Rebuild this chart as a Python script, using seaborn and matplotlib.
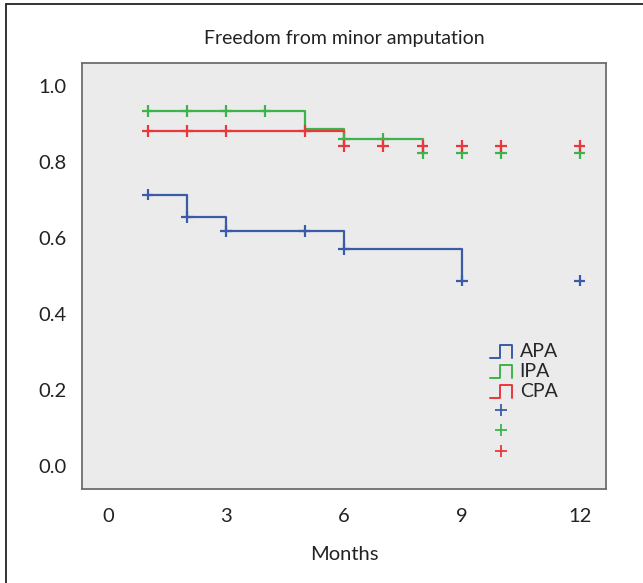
import numpy as np
import pandas as pd
import matplotlib
matplotlib.use('Agg')
import matplotlib.pyplot as plt
import seaborn as sns
from matplotlib.lines import Line2D
from matplotlib.legend_handler import HandlerBase
from matplotlib.patches import Rectangle

# --- data ---
groups = ['APA', 'IPA', 'CPA']
colors = {'APA': '#3b5ba8', 'IPA': '#3cb44b', 'CPA': '#e8383d'}

# step curves (event times / survival)
apa_t = [1, 2, 3, 6, 9]
apa_s = [0.714, 0.655, 0.618, 0.571, 0.488]
ipa_t = [1, 5, 6, 8]
ipa_s = [0.934, 0.887, 0.860, 0.824]
cpa_t = [1, 6]
cpa_s = [0.882, 0.842]

# censored marks
apa_ct = [1, 2, 3, 5, 6, 9, 12]
apa_cs = [0.714, 0.655, 0.618, 0.618, 0.571, 0.488, 0.488]
ipa_ct = [1, 2, 3, 4, 6, 7, 8, 9, 10, 12]
ipa_cs = [0.934, 0.934, 0.934, 0.934, 0.860, 0.860, 0.824, 0.824, 0.824, 0.824]
cpa_ct = [1, 2, 3, 5, 6, 7, 8, 9, 10, 12]
cpa_cs = [0.882, 0.882, 0.882, 0.882, 0.842, 0.842, 0.842, 0.842, 0.842, 0.842]

x_ticks = [0, 3, 6, 9, 12]
y_ticks = [0.0, 0.2, 0.4, 0.6, 0.8, 1.0]

curves = pd.concat([
    pd.DataFrame({'month': apa_t, 'surv': apa_s, 'group': 'APA'}),
    pd.DataFrame({'month': ipa_t, 'surv': ipa_s, 'group': 'IPA'}),
    pd.DataFrame({'month': cpa_t, 'surv': cpa_s, 'group': 'CPA'}),
])
censor = pd.concat([
    pd.DataFrame({'month': apa_ct, 'surv': apa_cs, 'group': 'APA'}),
    pd.DataFrame({'month': ipa_ct, 'surv': ipa_cs, 'group': 'IPA'}),
    pd.DataFrame({'month': cpa_ct, 'surv': cpa_cs, 'group': 'CPA'}),
])

sns.set_style('white')
plt.rcParams['font.family'] = ['Lato', 'DejaVu Sans']

fig = plt.figure(figsize=(6.43, 5.83), dpi=100)
ax = fig.add_axes([82 / 643, 94 / 583, 524 / 643, 426 / 583])
ax.set_facecolor('#ebebeb')

# outer frame of the figure (only top/left visible, cropped)
fig.patches.append(Rectangle((6 / 643, -0.1), 1.2, 1.1 - 4 / 583,
                             transform=fig.transFigure, fill=False,
                             edgecolor='#222222', lw=1.3, zorder=0))

for g in groups:
    d = curves[curves['group'] == g]
    ax.plot(d['month'], d['surv'], drawstyle='steps-post', color=colors[g], lw=1.6)

sns.scatterplot(data=censor, x='month', y='surv', hue='group', palette=colors,
                marker='+', s=70, linewidth=1.6, legend=False, ax=ax, zorder=3)

ax.set_xlim(-0.67, 12.67)
ax.set_ylim(-0.06, 1.06)
ax.set_xticks(x_ticks)
ax.set_yticks(y_ticks)
ax.set_yticklabels([f'{v:.1f}' for v in y_ticks])
ax.tick_params(axis='both', direction='out', length=8, width=1.5, color='#555555',
               labelsize=14.5, labelcolor='#222222')
ax.tick_params(axis='y', pad=3)
ax.tick_params(axis='x', pad=6)
for sp in ax.spines.values():
    sp.set_color('#6d6d6d')
    sp.set_linewidth(1.3)

ax.set_xlabel('Months', fontsize=14.5, color='#222222', labelpad=15)
ax.set_ylabel('')
ax.set_title('Freedom from minor amputation', fontsize=14, color='#222222', pad=14)


# legend with step-shaped icons
class StepHandler(HandlerBase):
    def create_artists(self, legend, orig_handle, xdescent, ydescent,
                       width, height, fontsize, trans):
        x0 = -xdescent
        y0 = -ydescent - 1
        xs = [x0, x0 + 0.45 * width, x0 + 0.45 * width, x0 + width, x0 + width]
        ys = [y0, y0, y0 + height * 1.0, y0 + height * 1.0, y0]
        line = Line2D(xs, ys, color=orig_handle.get_color(), lw=1.4, transform=trans)
        return [line]


handles = [Line2D([], [], color=colors[g]) for g in groups]
handles += [Line2D([], [], color=colors[g], marker='+', ls='none', markersize=9,
                   markeredgewidth=1.3) for g in groups]
labels = groups + ['', '', '']
handler_map = {h: StepHandler() for h in handles[:3]}
leg = ax.legend(handles, labels, handler_map=handler_map, loc='upper left',
                bbox_to_anchor=(0.76, 0.366), frameon=False, fontsize=14,
                handlelength=1.13, handletextpad=0.4, labelspacing=0.16,
                borderpad=0)

plt.savefig('out.png', dpi=100)
plt.close()
